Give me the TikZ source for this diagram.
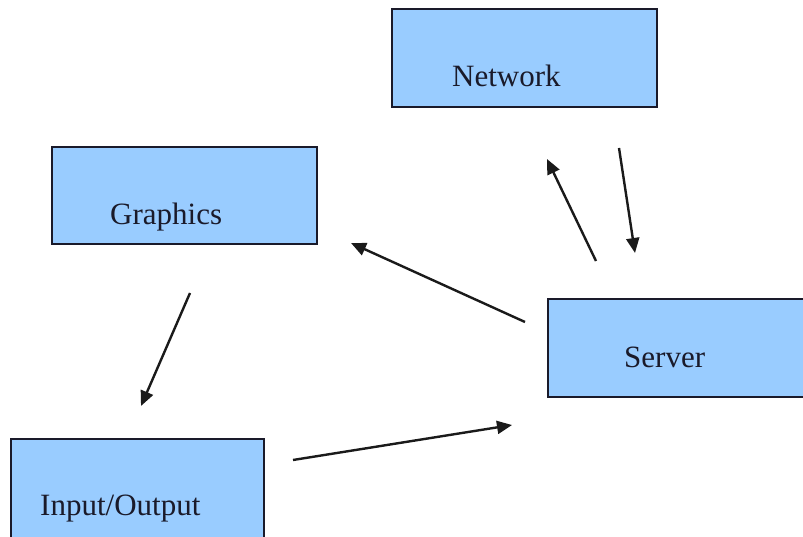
\documentclass[tikz,border=0pt]{standalone}
\usepackage{fontspec}
\setmainfont{Liberation Serif}
\usetikzlibrary{arrows.meta}
\definecolor{boxfill}{HTML}{99CCFF}
\definecolor{boxline}{HTML}{1A1A2A}
\definecolor{arrowline}{HTML}{1A1A1A}
\begin{document}
\begin{tikzpicture}[x=1pt,y=-1pt,
  box/.style={draw=boxline,line width=1.8pt,fill=boxfill,rectangle,
    inner sep=0pt,anchor=north west},
  boxtext/.style={font=\fontsize{31}{34}\selectfont,text=boxline,inner sep=0pt,anchor=base west},
  link/.style={draw=arrowline,line width=2.4pt,
    -{Triangle[length=15pt,width=13pt]}}]
  \useasboundingbox (0,0) rectangle (803,537);

  % boxes
  \node[box,minimum width=265pt,minimum height=98pt] (network) at (391,8) {};
  \node[box,minimum width=265pt,minimum height=97pt] (graphics) at (51,146) {};
  \node[box,minimum width=270pt,minimum height=98pt] (server) at (547,298) {};
  \node[box,minimum width=253pt,minimum height=110pt] (io) at (10,438) {};

  % labels
  \node[boxtext] (networklabel) at (452,87) {Network};
  \node[boxtext] (graphicslabel) at (110,225) {Graphics};
  \node[boxtext] (serverlabel) at (624,367) {Server};
  \node[boxtext] (iolabel) at (40,515) {Input/Output};

  % arrow ends
  \coordinate (srvup) at (596,261);
  \coordinate (netin) at (547,159);
  \coordinate (netout) at (619,148);
  \coordinate (srvin) at (635,253);
  \coordinate (srvleft) at (525,322);
  \coordinate (grin) at (351,243);
  \coordinate (grout) at (190,293);
  \coordinate (ioin) at (141,406);
  \coordinate (ioout) at (293,460);
  \coordinate (srvfromio) at (512,425);

  % arrows
  \draw[link] (srvup) -- (netin);
  \draw[link] (netout) -- (srvin);
  \draw[link] (srvleft) -- (grin);
  \draw[link] (grout) -- (ioin);
  \draw[link] (ioout) -- (srvfromio);
\end{tikzpicture}
\end{document}
